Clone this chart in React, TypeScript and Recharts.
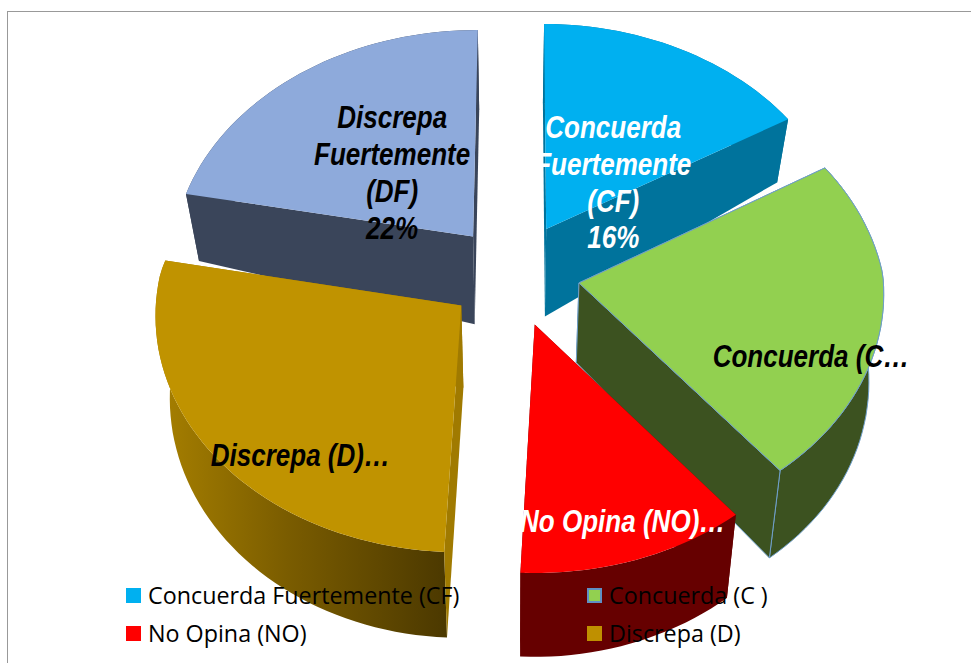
import React from "react";
import { PieChart, Pie, Legend } from "recharts";

// Paint order goes from the back slice to the front one, so the pie starts at Discrepa Fuertemente.
const categories = [
  "Discrepa Fuertemente (DF)",
  "Concuerda Fuertemente (CF)",
  "Concuerda (C )",
  "No Opina (NO)",
  "Discrepa (D)",
];
const shares = [22, 16.4, 22.6, 11.7, 27.3];
const topColors = ["#8eaadb", "#00b0f0", "#92d050", "#ff0000", "#c09300"];
const wallColors = ["#3a455a", "#00739c", "#3c5220", "#660000", "#a07a00"];
const legendColors = ["#8eaadb", "#00b0f0", "#92d050", "#ff0000", "#bf9000"];
const labelLines = [
  ["Discrepa", "Fuertemente", "(DF)", "22%"],
  ["Concuerda", "Fuertemente", "(CF)", "16%"],
  ["Concuerda (C…"],
  ["No Opina (NO)…"],
  ["Discrepa (D)…"],
];
const labelColors = ["#000000", "#ffffff", "#000000", "#ffffff", "#000000"];

const explode = [0.21, 0.225, 0.22, 0.225, 0.215];
const depths = [92, 92, 78, 80, 82];
const tapers = [0.22, 0.27, -0.1, 0, 0];
const labelOffsets = [
  [-81, -108],
  [67, -91],
  [232, 84],
  [88, 207],
  [-161, 161],
];

const data = categories.map((name, i) => ({ name, value: shares[i], fill: topColors[i] }));

const CX = 513;
const CY = 274;
const RADIUS = 304;
const TILT = 0.773;
const PERSP_BACK = 0.103;
const PERSP_FRONT = 0.038;
const SHRINK = 0.04;
const RAD = Math.PI / 180;

function project(px: number, py: number, z: number, index: number, cx: number, cy: number, R: number) {
  const s = 1 / (1 - py * (py < 0 ? PERSP_BACK : PERSP_FRONT));
  const depth = depths[index] * (1 - tapers[index] * Math.abs(px));
  return {
    x: cx + R * px * s * (1 - z * SHRINK),
    y: cy + R * TILT * py * s + z * depth * s,
  };
}

const toPath = (pts: { x: number; y: number }[]) =>
  "M" + pts.map((p) => `${p.x.toFixed(1)},${p.y.toFixed(1)}`).join("L") + "Z";

function Slice3D(props: any) {
  const { cx, cy, outerRadius, startAngle, endAngle, fill, index } = props;
  const a0 = 90 - startAngle;
  const a1 = 90 - endAngle;
  const mid = ((a0 + a1) / 2) * RAD;
  const e = explode[index];
  const ox = Math.sin(mid) * e;
  const oy = -Math.cos(mid) * e;
  const pt = (deg: number, r: number, z: number) =>
    project(ox + Math.sin(deg * RAD) * r, oy - Math.cos(deg * RAD) * r, z, index, cx, cy, outerRadius);
  const arcAngles: number[] = [];
  const steps = Math.ceil((a1 - a0) / 2);
  for (let k = 0; k <= steps; k++) arcAngles.push(a0 + ((a1 - a0) * k) / steps);
  const topArc = arcAngles.map((d) => pt(d, 1, 0));
  const botArc = arcAngles.map((d) => pt(d, 1, 1));
  const apexTop = pt(a0, 0, 0);
  const apexBot = pt(a0, 0, 1);
  const outer = toPath([...topArc, ...botArc.slice().reverse()]);
  const startWall = toPath([apexTop, topArc[0], botArc[0], apexBot]);
  const endWall = toPath([apexTop, topArc[topArc.length - 1], botArc[botArc.length - 1], apexBot]);
  const top = toPath([apexTop, ...topArc]);
  const wall = wallColors[index];
  const isGold = index === 4;
  const isGreen = index === 2;
  const stroke = isGreen ? "#6f9fc9" : "none";
  const outerFill = isGold ? "url(#goldWall)" : wall;
  return (
    <g>
      {isGold && (
        <defs>
          <linearGradient id="goldWall" gradientUnits="userSpaceOnUse" x1={160} y1={0} x2={445} y2={0}>
            <stop offset="0%" stopColor="#a67f00" />
            <stop offset="45%" stopColor="#7a5c00" />
            <stop offset="100%" stopColor="#4c3900" />
          </linearGradient>
        </defs>
      )}
      <path d={outer} fill={outerFill} stroke={stroke} strokeWidth={1} />
      <path d={startWall} fill={wall} stroke={stroke} strokeWidth={1} />
      <path d={endWall} fill={wall} stroke={stroke} strokeWidth={1} />
      <path d={top} fill={fill} stroke={stroke} strokeWidth={1} />
    </g>
  );
}

function SliceLabel(props: any) {
  const { cx, cy, outerRadius, midAngle, index } = props;
  const mid = (90 - midAngle) * RAD;
  const e = explode[index];
  const apex = project(Math.sin(mid) * e, -Math.cos(mid) * e, 0, index, cx, cy, outerRadius);
  const [dx, dy] = labelOffsets[index];
  const lines = labelLines[index];
  return (
    <g transform={`translate(${apex.x + dx},${apex.y + dy}) scale(0.84,1)`}>
      <text
        x={0}
        y={0}
        textAnchor="middle"
        fill={labelColors[index]}
        fontFamily="'Liberation Sans', sans-serif"
        fontWeight="bold"
        fontStyle="italic"
        fontSize={31}
      >
        {lines.map((line, i) => (
          <tspan key={i} x={0} dy={i === 0 ? 0 : 36.8}>
            {line}
          </tspan>
        ))}
      </text>
    </g>
  );
}

const legendPositions = [
  [126, 588],
  [587, 588],
  [126, 626],
  [587, 626],
];

function ChartLegend() {
  const items = categories.slice(1);
  return (
    <div style={{ position: "relative", width: 971, height: 663, pointerEvents: "none" }}>
      {items.map((name, i) => {
        const [x, y] = legendPositions[i];
        const isGreen = name === "Concuerda (C )";
        return (
          <div key={name}>
            <div
              style={{
                position: "absolute",
                left: x,
                top: y,
                width: 15,
                height: 15,
                boxSizing: "border-box",
                background: legendColors[i + 1],
                border: isGreen ? "2px solid #5f8fc4" : "none",
              }}
            />
            <div
              style={{
                position: "absolute",
                left: x + 22,
                top: y - 8,
                lineHeight: "30px",
                whiteSpace: "pre",
                fontFamily: "'Open Sans', sans-serif",
                fontSize: 23.3,
                color: "#000",
              }}
            >
              {name}
            </div>
          </div>
        );
      })}
    </div>
  );
}

export default function App() {
  return (
    <div style={{ position: "absolute", left: 0, top: 0, width: 971, height: 663, background: "#fff", overflow: "hidden" }}>
      <div
        style={{
          position: "absolute",
          left: 7,
          top: 11,
          width: 964,
          height: 652,
          boxSizing: "border-box",
          borderTop: "1px solid #999",
          borderLeft: "1px solid #999",
        }}
      />
      <PieChart width={971} height={663} margin={{ top: 0, right: 0, bottom: 0, left: 0 }}>
        <Pie
          data={data}
          dataKey="value"
          nameKey="name"
          cx={CX}
          cy={CY}
          outerRadius={RADIUS}
          startAngle={169}
          endAngle={-191}
          stroke="none"
          shape={Slice3D}
          label={SliceLabel}
          labelLine={false}
          isAnimationActive={false}
        />
        <Legend content={<ChartLegend />} wrapperStyle={{ position: "absolute", left: 0, top: 0, bottom: "auto", width: 971, height: 663 }} />
      </PieChart>
    </div>
  );
}
